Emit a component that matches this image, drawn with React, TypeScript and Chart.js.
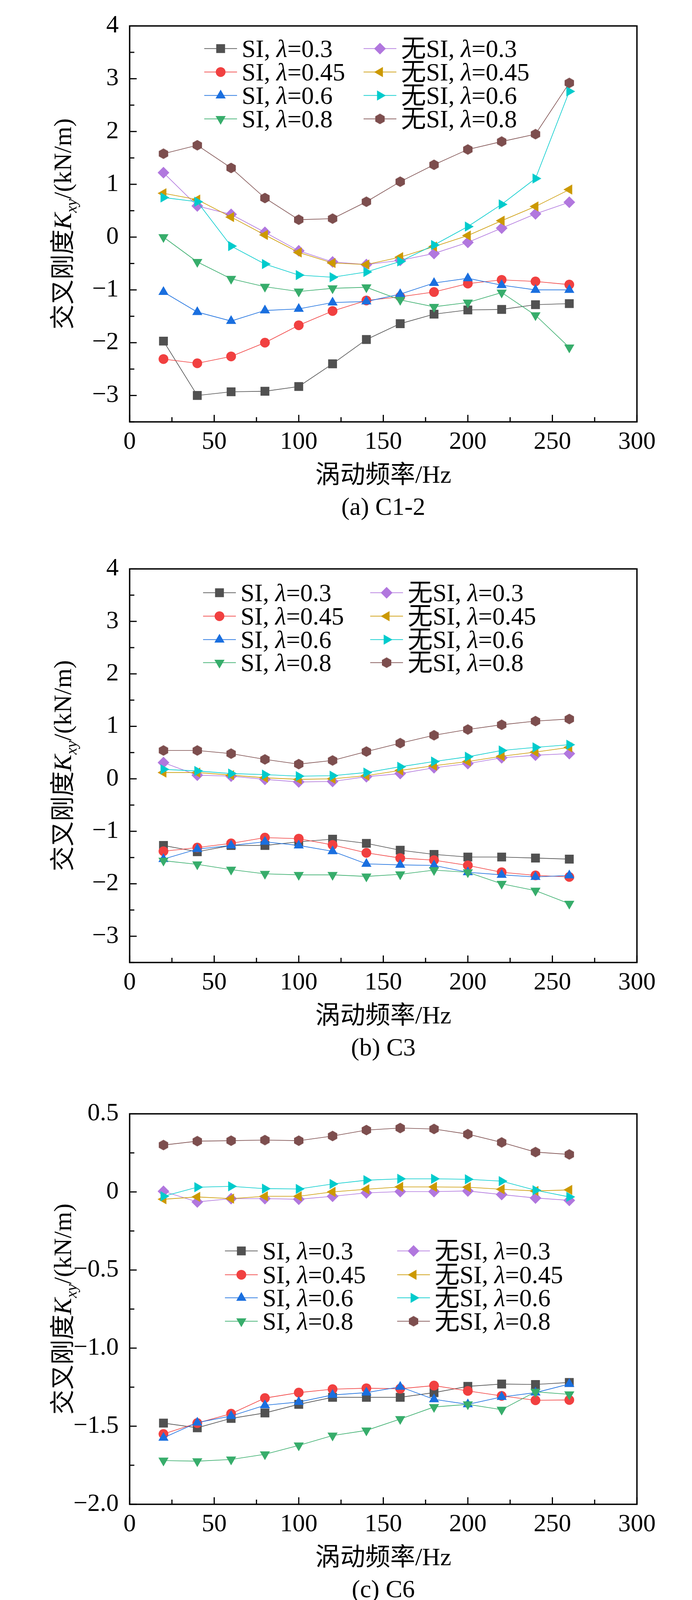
import React, { useEffect, useRef } from 'react';
import { Chart, registerables } from 'chart.js';

Chart.register(...registerables);

// ---------------- DATA ----------------
const FREQ = [20, 40, 60, 80, 100, 120, 140, 160, 180, 200, 220, 240, 260];
const X_TICKS = [0, 50, 100, 150, 200, 250, 300];

const SERIES_PREFIX = ['SI', 'SI', 'SI', 'SI', '无SI', '无SI', '无SI', '无SI'];
const SERIES_LAMBDA = ['0.3', '0.45', '0.6', '0.8', '0.3', '0.45', '0.6', '0.8'];

const CAPTIONS = ['(a) C1-2', '(b) C3', '(c) C6', '(d) C9'];
const X_TITLE_CN = '涡动频率';
const X_TITLE_EN = '/Hz';
const Y_TITLE_CN = '交叉刚度';
const Y_TITLE_VAR = 'K';
const Y_TITLE_SUB = 'xy';
const Y_TITLE_UNIT = '/(kN/m)';

// (a) C1-2
const A_SI_03 = [-1.97, -3.0, -2.93, -2.92, -2.83, -2.4, -1.94, -1.64, -1.46, -1.38, -1.37, -1.28, -1.26];
const A_SI_045 = [-2.31, -2.39, -2.26, -2.0, -1.67, -1.4, -1.2, -1.13, -1.04, -0.88, -0.81, -0.84, -0.9];
const A_SI_06 = [-1.04, -1.42, -1.59, -1.39, -1.36, -1.24, -1.22, -1.08, -0.87, -0.78, -0.91, -1.0, -1.0];
const A_SI_08 = [0.0, -0.47, -0.79, -0.94, -1.03, -0.97, -0.95, -1.19, -1.32, -1.24, -1.05, -1.48, -2.09];
const A_NS_03 = [1.22, 0.59, 0.43, 0.09, -0.26, -0.47, -0.52, -0.44, -0.31, -0.1, 0.17, 0.44, 0.66];
const A_NS_045 = [0.83, 0.71, 0.38, 0.04, -0.29, -0.49, -0.52, -0.38, -0.18, 0.03, 0.31, 0.58, 0.9];
const A_NS_06 = [0.75, 0.67, -0.17, -0.51, -0.72, -0.76, -0.66, -0.46, -0.15, 0.2, 0.62, 1.11, 2.76];
const A_NS_08 = [1.58, 1.74, 1.31, 0.74, 0.33, 0.35, 0.67, 1.05, 1.37, 1.66, 1.81, 1.95, 2.92];

// (b) C3
const B_SI_03 = [-1.27, -1.39, -1.27, -1.27, -1.2, -1.15, -1.23, -1.36, -1.44, -1.49, -1.49, -1.51, -1.53];
const B_SI_045 = [-1.38, -1.31, -1.23, -1.12, -1.14, -1.26, -1.41, -1.51, -1.55, -1.65, -1.78, -1.84, -1.87];
const B_SI_06 = [-1.53, -1.34, -1.27, -1.2, -1.27, -1.38, -1.62, -1.64, -1.65, -1.78, -1.83, -1.87, -1.84];
const B_SI_08 = [-1.56, -1.63, -1.73, -1.81, -1.83, -1.83, -1.86, -1.82, -1.74, -1.78, -2.0, -2.13, -2.38];
const B_NS_03 = [0.31, 0.07, 0.05, -0.01, -0.06, -0.05, 0.04, 0.1, 0.21, 0.29, 0.4, 0.45, 0.48];
const B_NS_045 = [0.12, 0.12, 0.07, 0.02, -0.01, 0.0, 0.06, 0.16, 0.25, 0.33, 0.43, 0.51, 0.6];
const B_NS_06 = [0.18, 0.15, 0.1, 0.08, 0.05, 0.06, 0.12, 0.23, 0.33, 0.42, 0.54, 0.6, 0.65];
const B_NS_08 = [0.54, 0.54, 0.48, 0.37, 0.28, 0.35, 0.52, 0.68, 0.83, 0.94, 1.03, 1.1, 1.14];

// (c) C6
const C_SI_03 = [-1.48, -1.51, -1.45, -1.415, -1.36, -1.315, -1.315, -1.315, -1.285, -1.245, -1.23, -1.233, -1.22];
const C_SI_045 = [-1.55, -1.48, -1.42, -1.32, -1.285, -1.263, -1.257, -1.26, -1.24, -1.274, -1.306, -1.334, -1.332];
const C_SI_06 = [-1.574, -1.477, -1.435, -1.366, -1.345, -1.3, -1.285, -1.248, -1.328, -1.36, -1.313, -1.285, -1.23];
const C_SI_08 = [-1.72, -1.724, -1.713, -1.68, -1.623, -1.56, -1.527, -1.454, -1.377, -1.36, -1.394, -1.28, -1.296];
const C_NS_03 = [0.004, -0.064, -0.043, -0.043, -0.047, -0.028, -0.006, 0.002, 0.002, 0.006, -0.017, -0.039, -0.054];
const C_NS_045 = [-0.047, -0.032, -0.043, -0.028, -0.028, 0.0, 0.017, 0.032, 0.032, 0.03, 0.017, 0.006, 0.013];
const C_NS_06 = [-0.028, 0.03, 0.036, 0.021, 0.019, 0.051, 0.075, 0.084, 0.084, 0.081, 0.069, 0.011, -0.032];
const C_NS_08 = [0.3, 0.325, 0.328, 0.332, 0.328, 0.358, 0.396, 0.409, 0.403, 0.37, 0.317, 0.255, 0.24];

// (d) C9
const D_SI_03 = [-0.959, -0.923, -0.903, -0.882, -0.953, -0.953, -0.879, -0.879, -0.968, -1.056, -0.959, -0.805, -0.994];
const D_SI_045 = [-1.012, -0.988, -0.953, -0.841, -0.917, -0.829, -0.864, -0.882, -0.855, -0.864, -0.903, -1.239, -1.386];
const D_SI_06 = [-1.006, -0.938, -0.909, -0.879, -0.968, -0.947, -0.761, -0.785, -0.873, -0.962, -0.864, -1.189, -1.44];
const D_SI_08 = [-1.106, -0.968, -1.056, -1.006, -0.976, -0.968, -0.894, -0.864, -0.885, -1.05, -1.018, -0.941, -1.42];
const D_NS_03 = [-0.192, -0.26, -0.298, -0.268, -0.2, -0.112, -0.053, -0.083, -0.195, -0.327, -0.466, -0.519, -0.534];
const D_NS_045 = [-0.23, -0.239, -0.209, -0.239, -0.171, -0.165, -0.112, -0.097, -0.18, -0.165, -0.345, -0.48, -0.667];
const D_NS_06 = [-0.283, -0.171, -0.221, -0.106, -0.227, -0.083, -0.127, -0.139, -0.127, -0.145, -0.109, -0.622, -0.84];
const D_NS_08 = [-0.03, -0.047, -0.05, -0.027, -0.02, 0.003, 0.08, 0.053, 0.02, 0.015, 0.024, -0.263, -0.805];

const Y_TICKS_A = [-3, -2, -1, 0, 1, 2, 3, 4];
const Y_TICKS_B = [-3, -2, -1, 0, 1, 2, 3, 4];
const Y_TICKS_C = [-2, -1.5, -1, -0.5, 0, 0.5];
const Y_TICKS_D = [-2, -1.5, -1, -0.5, 0, 0.5, 1, 1.5];

// ---------------- STYLE ----------------
const SERIF = '"Liberation Serif", "Times New Roman", serif';
const CJK = '"Noto Sans CJK SC", sans-serif';
const FS = 64;

const COLORS = ['#515151', '#F14040', '#1A6FDF', '#37AD6B', '#B177DE', '#CC9900', '#00CBCC', '#7D4E4E'];
const MARKERS = ['rect', 'circle', 'triangle', 'triangle', 'rectRot', 'triangle', 'triangle', 'hex'];
const ROTATIONS = [0, 0, 0, 180, 0, -90, 90, 0];
const RADII = [16, 12.5, 15, 15, 15, 15, 15, 13];

type PanelCfg = {
  series: number[][];
  yMin: number;
  yMax: number;
  yTicks: number[];
  yMinor: number;
  decimals: number;
  caption: string;
  top: number;
  h: number;
  padTop: number;
  xAxisH: number;
  legendCols: number[]; // x offsets from chart-area left
  legendRows: number[]; // y offsets from chart-area top
};

const PANELS: PanelCfg[] = [
  {
    series: [A_SI_03, A_SI_045, A_SI_06, A_SI_08, A_NS_03, A_NS_045, A_NS_06, A_NS_08],
    yMin: -3.5, yMax: 4, yTicks: Y_TICKS_A, yMinor: 0.5, decimals: 0, caption: CAPTIONS[0],
    top: 0, h: 1390, padTop: 37, xAxisH: 310,
    legendCols: [191, 599], legendRows: [58, 118, 178, 238],
  },
  {
    series: [B_SI_03, B_SI_045, B_SI_06, B_SI_08, B_NS_03, B_NS_045, B_NS_06, B_NS_08],
    yMin: -3.5, yMax: 4, yTicks: Y_TICKS_B, yMinor: 0.5, decimals: 0, caption: CAPTIONS[1],
    top: 1390, h: 1395, padTop: 38, xAxisH: 321,
    legendCols: [188, 616], legendRows: [61, 121, 181, 240],
  },
  {
    series: [C_SI_03, C_SI_045, C_SI_06, C_SI_08, C_NS_03, C_NS_045, C_NS_06, C_NS_08],
    yMin: -2, yMax: 0.5, yTicks: Y_TICKS_C, yMinor: 0.25, decimals: 1, caption: CAPTIONS[2],
    top: 2785, h: 1375, padTop: 38, xAxisH: 309,
    legendCols: [244, 685], legendRows: [351, 412, 471, 531],
  },
  {
    series: [D_SI_03, D_SI_045, D_SI_06, D_SI_08, D_NS_03, D_NS_045, D_NS_06, D_NS_08],
    yMin: -2, yMax: 1.5, yTicks: Y_TICKS_D, yMinor: 0.25, decimals: 1, caption: CAPTIONS[3],
    top: 4160, h: 1347, padTop: 38, xAxisH: 266,
    legendCols: [188, 616], legendRows: [64, 124, 184, 244],
  },
];

function fmtTick(v: number, decimals: number): string {
  if (Math.abs(v) < 1e-9) return '0';
  const s = Math.abs(v).toFixed(decimals);
  return v < 0 ? '\u2212' + s : s;
}

function makeHex(color: string): HTMLCanvasElement {
  const c = document.createElement('canvas');
  c.width = 26;
  c.height = 28;
  const g = c.getContext('2d')!;
  g.fillStyle = color;
  const cx = 13, cy = 14, rx = 12, ry = 13.5;
  g.beginPath();
  g.moveTo(cx, cy - ry);
  g.lineTo(cx + rx, cy - ry / 2);
  g.lineTo(cx + rx, cy + ry / 2);
  g.lineTo(cx, cy + ry);
  g.lineTo(cx - rx, cy + ry / 2);
  g.lineTo(cx - rx, cy - ry / 2);
  g.closePath();
  g.fill();
  return c;
}

type Seg = { t: string; font: string; dy?: number };

function drawRich(ctx: CanvasRenderingContext2D, segs: Seg[], x: number, y: number, align: 'center' | 'left') {
  ctx.textAlign = 'left';
  ctx.textBaseline = 'alphabetic';
  const widths = segs.map((s) => {
    ctx.font = s.font;
    return ctx.measureText(s.t).width;
  });
  const total = widths.reduce((a, b) => a + b, 0);
  let cx = align === 'center' ? x - total / 2 : x;
  segs.forEach((s, i) => {
    ctx.font = s.font;
    ctx.fillText(s.t, cx, y + (s.dy || 0));
    cx += widths[i];
  });
}

function drawMarker(ctx: CanvasRenderingContext2D, i: number, x: number, y: number, hex: HTMLCanvasElement) {
  const kind = MARKERS[i];
  const r = RADII[i];
  ctx.save();
  ctx.fillStyle = COLORS[i];
  ctx.translate(x, y);
  ctx.rotate((ROTATIONS[i] * Math.PI) / 180);
  ctx.beginPath();
  if (kind === 'rect') {
    const s = r * Math.SQRT1_2;
    ctx.rect(-s, -s, 2 * s, 2 * s);
    ctx.fill();
  } else if (kind === 'circle') {
    ctx.arc(0, 0, r, 0, Math.PI * 2);
    ctx.fill();
  } else if (kind === 'triangle') {
    ctx.moveTo(0, -r);
    ctx.lineTo(r * Math.sin((2 * Math.PI) / 3), -r * Math.cos((2 * Math.PI) / 3));
    ctx.lineTo(r * Math.sin((4 * Math.PI) / 3), -r * Math.cos((4 * Math.PI) / 3));
    ctx.closePath();
    ctx.fill();
  } else if (kind === 'rectRot') {
    ctx.moveTo(-r, 0);
    ctx.lineTo(0, -r);
    ctx.lineTo(r, 0);
    ctx.lineTo(0, r);
    ctx.closePath();
    ctx.fill();
  } else {
    ctx.drawImage(hex, -hex.width / 2, -hex.height / 2);
  }
  ctx.restore();
}

function makeDecorPlugin(cfg: PanelCfg, hex: HTMLCanvasElement) {
  return {
    id: 'decor',
    afterDatasetsDraw(chart: any) {
      const ctx: CanvasRenderingContext2D = chart.ctx;
      const { left, right, top, bottom } = chart.chartArea;
      const xs = chart.scales.x;
      const ys = chart.scales.y;
      ctx.save();
      ctx.strokeStyle = '#000';
      ctx.lineCap = 'butt';
      // ticks (inward, bottom and left)
      ctx.lineWidth = 3;
      for (let v = 0; v <= 300; v += 25) {
        const px = xs.getPixelForValue(v);
        const len = v % 50 === 0 ? 18 : 12;
        ctx.beginPath();
        ctx.moveTo(px, bottom);
        ctx.lineTo(px, bottom - len);
        ctx.stroke();
      }
      const nMinor = Math.round((cfg.yMax - cfg.yMin) / cfg.yMinor);
      for (let k = 0; k <= nMinor; k++) {
        const v = cfg.yMin + k * cfg.yMinor;
        const py = ys.getPixelForValue(v);
        const isMajor = cfg.yTicks.some((t) => Math.abs(t - v) < 1e-6);
        const len = isMajor ? 18 : 12;
        ctx.beginPath();
        ctx.moveTo(left, py);
        ctx.lineTo(left + len, py);
        ctx.stroke();
      }
      // frame
      ctx.lineWidth = 3.5;
      ctx.strokeRect(left, top, right - left, bottom - top);
      ctx.restore();
    },
    afterDraw(chart: any) {
      const ctx: CanvasRenderingContext2D = chart.ctx;
      const { left, right, top, bottom } = chart.chartArea;
      const midX = (left + right) / 2;
      const midY = (top + bottom) / 2;
      ctx.save();
      ctx.fillStyle = '#000';

      // y-axis title (rotated)
      ctx.save();
      ctx.translate(160, midY);
      ctx.rotate(-Math.PI / 2);
      drawRich(
        ctx,
        [
          { t: Y_TITLE_CN, font: `${FS}px ${CJK}` },
          { t: Y_TITLE_VAR, font: `italic ${FS}px ${SERIF}` },
          { t: Y_TITLE_SUB, font: `italic 40px ${SERIF}`, dy: 14 },
          { t: Y_TITLE_UNIT, font: `${FS}px ${SERIF}` },
        ],
        0,
        22,
        'center'
      );
      ctx.restore();

      // x-axis title
      drawRich(
        ctx,
        [
          { t: X_TITLE_CN, font: `${FS}px ${CJK}` },
          { t: X_TITLE_EN, font: `${FS}px ${SERIF}` },
        ],
        midX,
        bottom + 134 + 22,
        'center'
      );

      // caption
      drawRich(ctx, [{ t: cfg.caption, font: `${FS}px ${SERIF}` }], midX, bottom + 216 + 22, 'center');

      // legend
      for (let i = 0; i < 8; i++) {
        const col = Math.floor(i / 4);
        const row = i % 4;
        const x0 = left + cfg.legendCols[col];
        const y0 = top + cfg.legendRows[row];
        const lineLen = 84;
        ctx.strokeStyle = COLORS[i];
        ctx.lineWidth = 1.6;
        ctx.beginPath();
        ctx.moveTo(x0, y0);
        ctx.lineTo(x0 + lineLen, y0);
        ctx.stroke();
        drawMarker(ctx, i, x0 + lineLen / 2, y0, hex);
        const prefix = SERIES_PREFIX[i];
        const segs: Seg[] = [];
        if (prefix.startsWith('无')) {
          segs.push({ t: '无', font: `${FS}px ${CJK}` });
          segs.push({ t: prefix.slice(1), font: `${FS}px ${SERIF}` });
        } else {
          segs.push({ t: prefix, font: `${FS}px ${SERIF}` });
        }
        segs.push({ t: ', ', font: `${FS}px ${SERIF}` });
        segs.push({ t: 'λ', font: `italic ${FS}px ${SERIF}` });
        segs.push({ t: '=' + SERIES_LAMBDA[i], font: `${FS}px ${SERIF}` });
        ctx.fillStyle = '#000';
        drawRich(ctx, segs, x0 + lineLen + 12, y0 + 22, 'left');
      }
      ctx.restore();
    },
  };
}

function Panel({ idx }: { idx: number }) {
  const ref = useRef<HTMLCanvasElement>(null);
  const cfg = PANELS[idx];

  useEffect(() => {
    const canvas = ref.current!;
    const hex = makeHex(COLORS[7]);
    const datasets = cfg.series.map((vals, i) => ({
      label: SERIES_PREFIX[i] + ', λ=' + SERIES_LAMBDA[i],
      data: FREQ.map((f, k) => ({ x: f, y: vals[k] })),
      borderColor: COLORS[i],
      backgroundColor: COLORS[i],
      borderWidth: 1.6,
      pointStyle: MARKERS[i] === 'hex' ? hex : MARKERS[i],
      pointRotation: ROTATIONS[i],
      pointRadius: RADII[i],
      pointBorderWidth: 0,
      pointBorderColor: COLORS[i],
      pointBackgroundColor: COLORS[i],
      tension: 0,
      fill: false,
      order: 7 - i,
    }));

    const chart = new Chart(canvas, {
      type: 'line',
      data: { datasets } as any,
      options: {
        animation: false,
        responsive: false,
        devicePixelRatio: 1,
        events: [],
        layout: { padding: { left: 0, right: 141, top: cfg.padTop, bottom: 0 } },
        plugins: {
          legend: { display: false },
          tooltip: { enabled: false },
          title: { display: false },
        },
        scales: {
          x: {
            type: 'linear',
            position: 'bottom',
            min: 0,
            max: 300,
            grid: { display: false, drawTicks: false },
            border: { display: false },
            afterBuildTicks: (s: any) => {
              s.ticks = X_TICKS.map((v) => ({ value: v }));
            },
            afterFit: (s: any) => {
              s.height = cfg.xAxisH;
            },
            ticks: {
              autoSkip: false,
              maxRotation: 0,
              padding: 14,
              color: '#000',
              font: { family: SERIF, size: FS },
              callback: (v: any) => String(v),
            },
          },
          y: {
            type: 'linear',
            position: 'left',
            min: cfg.yMin,
            max: cfg.yMax,
            grid: { display: false, drawTicks: false },
            border: { display: false },
            afterBuildTicks: (s: any) => {
              s.ticks = cfg.yTicks.map((v) => ({ value: v }));
            },
            afterFit: (s: any) => {
              s.width = 332;
            },
            ticks: {
              autoSkip: false,
              padding: 28,
              color: '#000',
              font: { family: SERIF, size: FS },
              callback: (v: any) => fmtTick(Number(v), cfg.decimals),
            },
          },
        },
      } as any,
      plugins: [makeDecorPlugin(cfg, hex) as any],
    });
    return () => chart.destroy();
  }, [idx]);

  return (
    <canvas
      ref={ref}
      width={1772}
      height={cfg.h}
      style={{ position: 'absolute', left: 0, top: cfg.top, width: 1772, height: cfg.h, display: 'block' }}
    />
  );
}

export default function App() {
  return (
    <div style={{ position: 'absolute', left: 0, top: 0, width: 1772, height: 5507, background: '#fff' }}>
      {PANELS.map((_, i) => (
        <Panel key={i} idx={i} />
      ))}
    </div>
  );
}
